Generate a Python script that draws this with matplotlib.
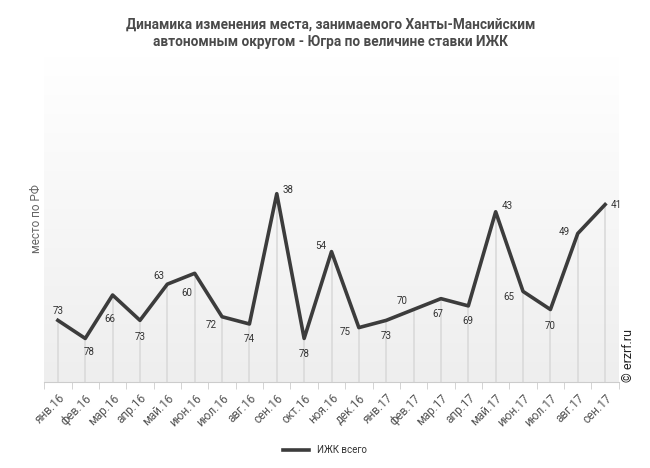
import numpy as np
import matplotlib
matplotlib.use("Agg")
import matplotlib.pyplot as plt

plt.rcParams['font.family'] = ['Roboto', 'DejaVu Sans']

months = ['янв.16', 'фев.16', 'мар.16', 'апр.16', 'май.16', 'июн.16', 'июл.16',
          'авг.16', 'сен.16', 'окт.16', 'ноя.16', 'дек.16', 'янв.17', 'фев.17',
          'мар.17', 'апр.17', 'май.17', 'июн.17', 'июл.17', 'авг.17', 'сен.17']
place = [73, 78, 66, 73, 63, 60, 72, 74, 38, 78, 54, 75, 73, 70, 67, 69, 43, 65, 70, 49, 41]

# label offsets in points (style only)
lbl_off = [(0, 7), (3, -10), (-2, -17), (0, -12), (-6, 6), (-6, -14), (-8, -6), (0, -11),
           (8, 3), (0, -11), (-8, 4), (-10, -3), (0, -11), (-8, 6), (-2, -11), (0, -11),
           (8, 4), (-10, -4), (0, -12), (-10, 1), (8, 0)]

fig = plt.figure(figsize=(6.5, 4.68), dpi=100)
ax = fig.add_axes([0.068, 0.184, 0.884, 0.696])

x = np.arange(len(months))
ax.set_xlim(-0.5, len(months) - 0.5)
ax.set_ylim(90, 0)

# gradient background
grad = np.linspace(0, 1, 256).reshape(-1, 1)
ax.imshow(grad, extent=[0, 1, 0, 1], transform=ax.transAxes, aspect='auto',
          cmap=matplotlib.colors.LinearSegmentedColormap.from_list('g', ['#ffffff', '#eeeeee']),
          zorder=0)

ax.vlines(x, place, 90, colors='#dcdcdc', lw=1.3, zorder=1)
ax.plot(x, place, color='#3c3c3c', lw=2.6, zorder=3, label='ИЖК всего')

for xi, v, (dx, dy) in zip(x, place, lbl_off):
    ax.annotate(str(v), (xi, v), xytext=(dx, dy), textcoords='offset points',
                ha='center', va='center', fontsize=7, color='#333333', zorder=4)

for s in ['top', 'right', 'left']:
    ax.spines[s].set_visible(False)
ax.spines['bottom'].set_color('#cccccc')
ax.set_yticks([])
ax.set_xticks(x)
ax.set_xticklabels(months, rotation=45, ha='right', rotation_mode='anchor',
                   fontsize=8.5, color='#555555')
ax.tick_params(axis='x', length=0, pad=7)
ax.set_xticks(np.arange(-0.5, len(months)), minor=True)
ax.tick_params(axis='x', which='minor', length=5, color='#cccccc')

ax.set_ylabel('место по РФ', fontsize=8.5, color='#666666', labelpad=1)

fig.text(0.508, 0.962, 'Динамика изменения места, занимаемого Ханты-Мансийским\n'
         'автономным округом - Югра по величине ставки ИЖК',
         ha='center', va='top', fontsize=9.8, fontweight='bold', color='#4a4a4a',
         linespacing=1.25)

fig.text(0.967, 0.184, '© erzrf.ru', rotation=90, ha='center', va='bottom',
         fontsize=9, color='#222222')

fig.legend(loc='center', bbox_to_anchor=(0.5, 0.038), frameon=False, fontsize=7,
           handlelength=2.6, labelcolor='#333333')

fig.savefig('out.png', dpi=100)
